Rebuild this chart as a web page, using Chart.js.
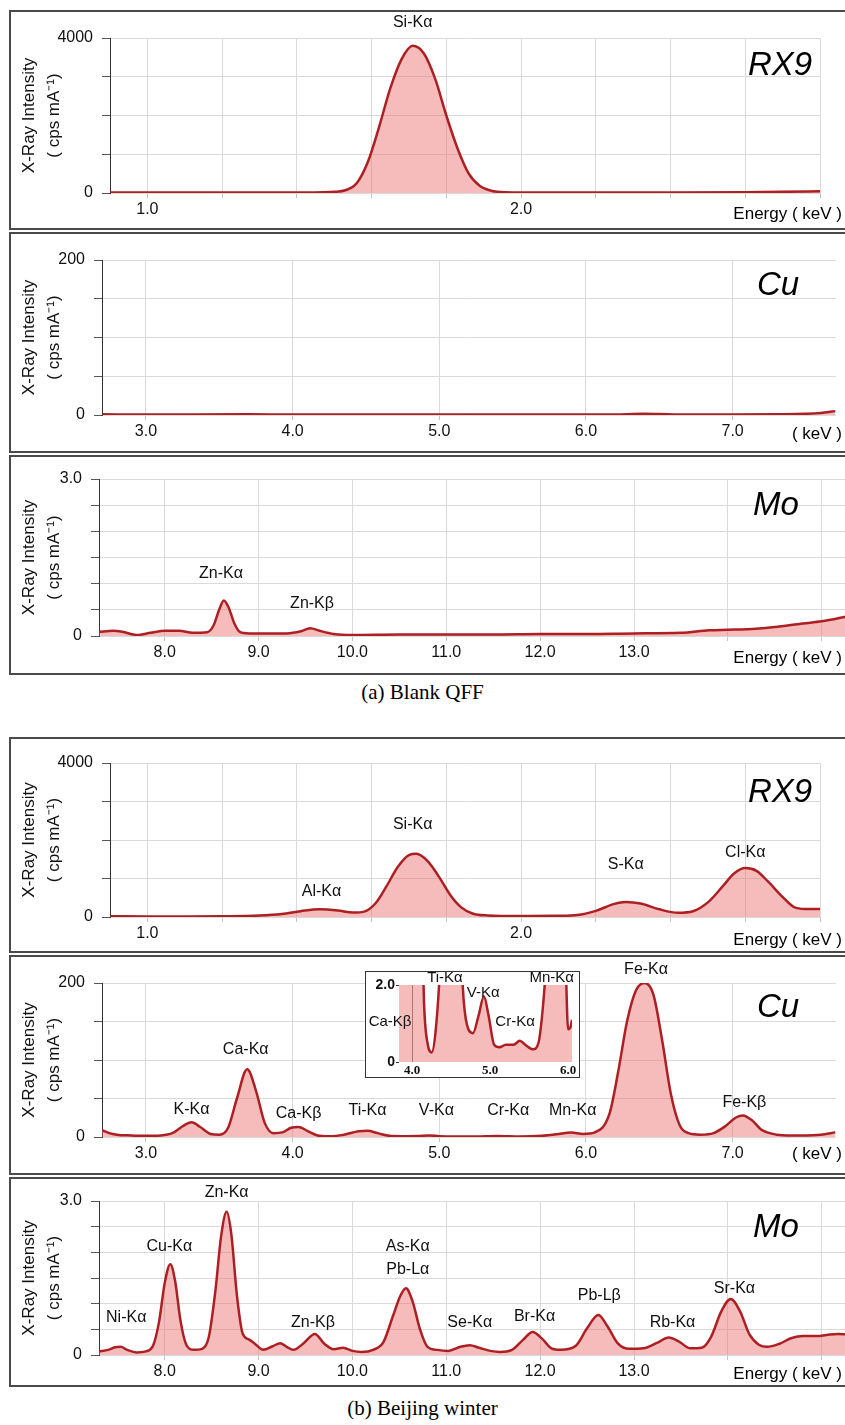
<!DOCTYPE html>
<html>
<head>
<meta charset="utf-8">
<script src="https://cdn.jsdelivr.net/npm/chart.js@4.4.1/dist/chart.umd.min.js"></script>
<style>
  html, body { margin: 0; padding: 0; width: 845px; height: 1425px; overflow: hidden; background: #fff; }
  .frame { position: absolute; left: 9px; width: 850px; border: 2px solid #4a4a4a; box-sizing: border-box; }
  canvas { position: absolute; left: 0; }
  .txt { position: absolute; font-family: 'Liberation Sans', Arial, sans-serif; color: #000; white-space: nowrap; line-height: 1; }
  .tag { font-style: italic; font-size: 33px; }
  .energy { font-size: 17px; right: 3px; }
  .caption { position: absolute; left: 0; width: 845px; text-align: center; line-height: 1;
             font-family: 'Liberation Serif', 'Times New Roman', serif; font-size: 21px; color: #000; }
  .inset { position: absolute; background: #fff; border: 1.5px solid #333; box-sizing: border-box; }
</style>
</head>
<body>
<script>
// spectra: energy (keV) and intensity (cps/mA)
const rx9BlankKeV = [0.90, 1.00, 1.20, 1.40, 1.47, 1.50, 1.53, 1.56, 1.59, 1.62, 1.65, 1.68, 1.71, 1.74, 1.77, 1.80, 1.83, 1.86, 1.89, 1.92, 1.96, 2.05, 2.20, 2.40, 2.60, 2.70, 2.80];
const rx9BlankCps = [10, 10, 10, 12, 18, 30, 70, 250, 800, 1700, 2700, 3450, 3800, 3600, 2950, 2000, 1150, 500, 180, 60, 20, 10, 10, 10, 20, 30, 45];

const cuBlankKeV = [2.70, 3.00, 3.30, 3.70, 4.00, 4.50, 5.00, 5.50, 6.00, 6.20, 6.40, 6.60, 7.00, 7.30, 7.50, 7.60, 7.70];
const cuBlankCps = [1, 0.5, 0.8, 1, 0.5, 0.5, 0.5, 0.5, 0.5, 0.8, 1.5, 0.8, 0.8, 1, 1.5, 2.5, 5];

const moBlankKeV = [7.30, 7.45, 7.55, 7.70, 7.85, 8.00, 8.15, 8.30, 8.45, 8.52, 8.58, 8.63, 8.68, 8.74, 8.80, 8.90, 9.10, 9.30, 9.45, 9.55, 9.65, 9.80, 10.00, 10.50, 11.00, 11.50, 12.00, 12.50, 13.00, 13.50, 13.80, 14.00, 14.30, 14.50, 14.80, 15.00, 15.28];
const moBlankCps = [0.08, 0.10, 0.08, 0.02, 0.06, 0.10, 0.10, 0.06, 0.07, 0.20, 0.50, 0.68, 0.55, 0.25, 0.08, 0.05, 0.05, 0.05, 0.09, 0.15, 0.10, 0.04, 0.02, 0.03, 0.03, 0.03, 0.04, 0.04, 0.05, 0.06, 0.11, 0.12, 0.14, 0.17, 0.24, 0.28, 0.38];

const rx9WinterKeV = [0.90, 1.00, 1.10, 1.20, 1.30, 1.36, 1.41, 1.46, 1.51, 1.55, 1.58, 1.61, 1.64, 1.67, 1.70, 1.72, 1.75, 1.78, 1.81, 1.84, 1.87, 1.91, 2.00, 2.10, 2.15, 2.20, 2.25, 2.28, 2.32, 2.37, 2.42, 2.46, 2.50, 2.54, 2.57, 2.60, 2.63, 2.66, 2.70, 2.73, 2.76, 2.80];
const rx9WinterCps = [20, 15, 15, 20, 40, 80, 150, 200, 170, 115, 140, 350, 800, 1300, 1610, 1640, 1450, 1050, 580, 250, 90, 40, 25, 30, 50, 160, 340, 390, 350, 200, 110, 150, 380, 800, 1130, 1270, 1200, 930, 520, 260, 210, 210];

const cuWinterKeV = [2.70, 2.75, 2.80, 2.90, 3.00, 3.10, 3.18, 3.25, 3.31, 3.37, 3.44, 3.50, 3.56, 3.62, 3.69, 3.75, 3.81, 3.87, 3.93, 3.99, 4.04, 4.10, 4.17, 4.25, 4.35, 4.45, 4.51, 4.58, 4.66, 4.75, 4.85, 4.93, 5.00, 5.10, 5.25, 5.40, 5.55, 5.70, 5.80, 5.90, 5.98, 6.06, 6.16, 6.22, 6.28, 6.34, 6.40, 6.46, 6.52, 6.58, 6.64, 6.70, 6.78, 6.87, 6.95, 7.02, 7.07, 7.13, 7.20, 7.30, 7.40, 7.50, 7.60, 7.70];
const cuWinterCps = [9, 5, 3, 2, 1.5, 2, 5, 14, 19, 13, 4, 3, 12, 50, 88, 60, 18, 5, 6, 12, 13, 8, 2, 1, 3, 7.5, 8, 5, 1.5, 1, 1.2, 2, 1, 0.5, 0.6, 1.2, 0.6, 1.5, 3.5, 6, 4, 6, 30, 85, 150, 190, 200, 185, 125, 55, 15, 5, 3, 5, 14, 25, 28, 22, 9, 3, 2, 2, 3, 6];

const moWinterKeV = [7.30, 7.40, 7.47, 7.53, 7.60, 7.70, 7.80, 7.88, 7.94, 8.00, 8.06, 8.11, 8.17, 8.23, 8.31, 8.40, 8.47, 8.54, 8.60, 8.66, 8.71, 8.77, 8.83, 8.90, 8.96, 9.05, 9.15, 9.23, 9.30, 9.37, 9.48, 9.60, 9.70, 9.80, 9.90, 10.00, 10.10, 10.22, 10.33, 10.43, 10.51, 10.57, 10.64, 10.72, 10.80, 10.90, 11.02, 11.15, 11.25, 11.35, 11.47, 11.57, 11.70, 11.82, 11.92, 12.02, 12.12, 12.22, 12.38, 12.50, 12.62, 12.72, 12.83, 12.95, 13.10, 13.25, 13.37, 13.48, 13.60, 13.72, 13.82, 13.93, 14.03, 14.13, 14.23, 14.33, 14.42, 14.55, 14.68, 14.80, 14.95, 15.05, 15.17, 15.28];
const moWinterCps = [0.07, 0.10, 0.15, 0.16, 0.10, 0.05, 0.07, 0.20, 0.65, 1.40, 1.77, 1.45, 0.65, 0.20, 0.10, 0.12, 0.35, 1.25, 2.30, 2.79, 2.35, 1.15, 0.42, 0.30, 0.22, 0.10, 0.17, 0.23, 0.16, 0.10, 0.23, 0.41, 0.22, 0.11, 0.14, 0.08, 0.06, 0.10, 0.25, 0.75, 1.15, 1.30, 1.05, 0.50, 0.16, 0.10, 0.08, 0.16, 0.19, 0.14, 0.08, 0.06, 0.10, 0.30, 0.45, 0.32, 0.13, 0.10, 0.18, 0.52, 0.78, 0.55, 0.22, 0.12, 0.13, 0.24, 0.34, 0.26, 0.13, 0.14, 0.35, 0.85, 1.09, 0.85, 0.40, 0.20, 0.16, 0.22, 0.33, 0.37, 0.37, 0.39, 0.41, 0.40];

// zoomed inset of the winter Cu spectrum (clipped at 2.0)
const insetKeV = [3.83, 3.90, 4.00, 4.05, 4.10, 4.15, 4.20, 4.25, 4.30, 4.36, 4.43, 4.51, 4.60, 4.66, 4.72, 4.78, 4.85, 4.92, 4.98, 5.05, 5.12, 5.20, 5.30, 5.38, 5.45, 5.55, 5.62, 5.68, 5.74, 5.83, 5.91, 5.97, 6.00, 6.03, 6.05];
const insetCps = [6, 9, 13, 12, 6, 1.6, 0.45, 0.25, 0.8, 2.6, 6.5, 8, 4, 1.6, 0.85, 0.75, 1.2, 1.7, 1.2, 0.45, 0.38, 0.45, 0.45, 0.55, 0.45, 0.33, 0.5, 1.5, 3.2, 6, 6.2, 2.5, 0.85, 0.9, 1.1];

// tick labels shown on the energy axes
const rx9TickLabels = [1.0, 2.0];
const cuTickLabels = [3.0, 4.0, 5.0, 6.0, 7.0];
const moTickLabels = [8.0, 9.0, 10.0, 11.0, 12.0, 13.0];
const insetTickLabels = [4.0, 5.0, 6.0];

// peak names, energy and the intensity level where the name sits
const rx9BlankPeaks = ['Si-Kα'];
const rx9BlankPeakKeV = [1.71];
const rx9BlankPeakLevel = [4400];

const moBlankPeaks = ['Zn-Kα', 'Zn-Kβ'];
const moBlankPeakKeV = [8.60, 9.57];
const moBlankPeakLevel = [1.20, 0.61];

const rx9WinterPeaks = ['Al-Kα', 'Si-Kα', 'S-Kα', 'Cl-Kα'];
const rx9WinterPeakKeV = [1.466, 1.71, 2.28, 2.60];
const rx9WinterPeakLevel = [650, 2390, 1350, 1660];

const cuWinterPeaks = ['K-Kα', 'Ca-Kα', 'Ca-Kβ', 'Ti-Kα', 'V-Kα', 'Cr-Kα', 'Mn-Kα', 'Fe-Kα', 'Fe-Kβ'];
const cuWinterPeakKeV = [3.31, 3.68, 4.04, 4.51, 4.98, 5.47, 5.91, 6.41, 7.08];
const cuWinterPeakLevel = [36, 113, 30, 34, 34, 34, 34, 218, 45];

const moWinterPeaks = ['Ni-Kα', 'Cu-Kα', 'Zn-Kα', 'Zn-Kβ', 'As-Kα', 'Pb-Lα', 'Se-Kα', 'Br-Kα', 'Pb-Lβ', 'Rb-Kα', 'Sr-Kα'];
const moWinterPeakKeV = [7.59, 8.05, 8.66, 9.58, 10.59, 10.59, 11.25, 11.94, 12.63, 13.41, 14.07];
const moWinterPeakLevel = [0.72, 2.12, 3.16, 0.64, 2.12, 1.66, 0.64, 0.74, 1.15, 0.64, 1.29];

const insetPeaks = ['Ca-Kβ', 'Ti-Kα', 'V-Kα', 'Cr-Kα', 'Mn-Kα'];
const insetPeakKeV = [3.715, 4.42, 4.91, 5.32, 5.79];
const insetPeakLevel = [1.04, 2.18, 1.79, 1.04, 2.18];

const SANS = "'Liberation Sans', Arial, sans-serif";
const LINE = '#ac2024';
const FILL = 'rgba(236,112,112,0.47)';
const GRID = '#dadada';

function near(list, v) {
  return list.some(l => Math.abs(l - v) < 1e-6);
}

function peakLabelPlugin(names, keV, level, font) {
  return {
    id: 'peakLabels',
    afterDatasetsDraw(chart) {
      const { ctx, scales: { x, y } } = chart;
      ctx.save();
      ctx.font = font;
      ctx.fillStyle = '#111';
      ctx.textAlign = 'center';
      ctx.textBaseline = 'middle';
      names.forEach((n, i) => ctx.fillText(n, x.getPixelForValue(keV[i]), y.getPixelForValue(level[i])));
      ctx.restore();
    },
  };
}

function addText(cls, text, css) {
  const d = document.createElement('div');
  d.className = 'txt ' + cls;
  d.textContent = text;
  Object.assign(d.style, css);
  document.body.append(d);
}

function spectrum(keV, cps) {
  return {
    data: keV.map((e, i) => ({ x: e, y: cps[i] })),
    borderColor: LINE,
    borderWidth: 2.5,
    backgroundColor: FILL,
    fill: 'origin',
    pointRadius: 0,
    cubicInterpolationMode: 'monotone',
  };
}

function makePanel(p) {
  const frame = document.createElement('div');
  frame.className = 'frame';
  frame.style.top = p.frameTop + 'px';
  frame.style.height = p.frameHeight + 'px';
  document.body.append(frame);

  const cTop = p.frameTop + 2;
  const cH = p.frameHeight - 4;
  const cW = 870;
  const canvas = document.createElement('canvas');
  canvas.width = cW;
  canvas.height = cH;
  canvas.style.top = cTop + 'px';
  document.body.append(canvas);

  new Chart(canvas, {
    type: 'line',
    data: { datasets: [spectrum(p.keV, p.cps)] },
    plugins: [peakLabelPlugin(p.peaks, p.peakKeV, p.peakLevel, `16px ${SANS}`)],
    options: {
      responsive: false,
      animation: false,
      events: [],
      layout: { padding: { left: 0, right: cW - p.plot.right, top: p.plot.top - cTop, bottom: 0 } },
      plugins: { legend: { display: false }, tooltip: { enabled: false } },
      scales: {
        x: {
          type: 'linear',
          min: p.xMin,
          max: p.xMax,
          afterFit: s => { s.height = cTop + cH - p.plot.bottom; },
          border: { display: false },
          grid: { color: GRID, tickLength: 5, tickColor: '#c4c4c4' },
          ticks: {
            stepSize: p.xStep,
            includeBounds: false,
            autoSkip: false,
            maxRotation: 0,
            padding: 2,
            color: '#111',
            font: { family: SANS, size: 16 },
            callback: v => (near(p.xLabels, v) ? v.toFixed(1) : ''),
          },
        },
        y: {
          min: 0,
          max: p.yMax,
          afterFit: s => { s.width = p.plot.left; },
          border: { color: '#333', width: 1 },
          grid: { color: GRID, tickLength: 8, tickColor: '#555' },
          ticks: {
            stepSize: p.yStep,
            padding: 9,
            color: '#111',
            font: { family: SANS, size: 16 },
            callback: v => (v === 0 ? '0' : (Math.abs(v - p.yMax) < 1e-9 ? p.yMaxLabel : '')),
          },
          title: {
            display: true,
            text: ['X-Ray Intensity', '( cps mA⁻¹)'],
            color: '#111',
            font: { family: SANS, size: 17, lineHeight: 1.45 },
            padding: { top: 17, bottom: 0 },
          },
        },
      },
    },
  });

  addText('tag', p.tag, { left: p.tagLeft + 'px', top: (p.tagY - 16) + 'px' });
  addText('energy', p.energyText, { top: (p.energyY - 8) + 'px' });
}

const rx9Axis = { xMin: 0.9, xMax: 2.8, xStep: 0.2, xLabels: rx9TickLabels, yMax: 4000, yStep: 1000, yMaxLabel: '4000' };
const cuAxis = { xMin: 2.7, xMax: 7.705, xStep: 1, xLabels: cuTickLabels, yMax: 200, yStep: 50, yMaxLabel: '200' };
const moAxis = { xMin: 7.3, xMax: 15.28, xStep: 1, xLabels: moTickLabels, yMax: 3.0, yStep: 0.5, yMaxLabel: '3.0' };

// (a) Blank QFF
makePanel({ ...rx9Axis, frameTop: 10, frameHeight: 220, plot: { left: 110, right: 820, top: 38, bottom: 193 },
  keV: rx9BlankKeV, cps: rx9BlankCps, peaks: rx9BlankPeaks, peakKeV: rx9BlankPeakKeV, peakLevel: rx9BlankPeakLevel,
  tag: 'RX9', tagLeft: 748, tagY: 63, energyText: 'Energy ( keV )', energyY: 213 });
makePanel({ ...cuAxis, frameTop: 232, frameHeight: 221, plot: { left: 102, right: 836, top: 260, bottom: 415 },
  keV: cuBlankKeV, cps: cuBlankCps, peaks: [], peakKeV: [], peakLevel: [],
  tag: 'Cu', tagLeft: 757, tagY: 283, energyText: '( keV )', energyY: 433 });
makePanel({ ...moAxis, frameTop: 455, frameHeight: 220, plot: { left: 99, right: 848, top: 479, bottom: 636 },
  keV: moBlankKeV, cps: moBlankCps, peaks: moBlankPeaks, peakKeV: moBlankPeakKeV, peakLevel: moBlankPeakLevel,
  tag: 'Mo', tagLeft: 753, tagY: 503, energyText: 'Energy ( keV )', energyY: 657 });

// (b) Beijing winter
makePanel({ ...rx9Axis, frameTop: 737, frameHeight: 216, plot: { left: 110, right: 820, top: 763, bottom: 917 },
  keV: rx9WinterKeV, cps: rx9WinterCps, peaks: rx9WinterPeaks, peakKeV: rx9WinterPeakKeV, peakLevel: rx9WinterPeakLevel,
  tag: 'RX9', tagLeft: 748, tagY: 790, energyText: 'Energy ( keV )', energyY: 939 });
makePanel({ ...cuAxis, frameTop: 955, frameHeight: 220, plot: { left: 102, right: 836, top: 983, bottom: 1137 },
  keV: cuWinterKeV, cps: cuWinterCps, peaks: cuWinterPeaks, peakKeV: cuWinterPeakKeV, peakLevel: cuWinterPeakLevel,
  tag: 'Cu', tagLeft: 757, tagY: 1005, energyText: '( keV )', energyY: 1153 });
makePanel({ ...moAxis, frameTop: 1177, frameHeight: 210, plot: { left: 99, right: 848, top: 1201, bottom: 1355 },
  keV: moWinterKeV, cps: moWinterCps, peaks: moWinterPeaks, peakKeV: moWinterPeakKeV, peakLevel: moWinterPeakLevel,
  tag: 'Mo', tagLeft: 753, tagY: 1225, energyText: 'Energy ( keV )', energyY: 1373 });

// inset over the winter Cu panel
const box = document.createElement('div');
box.className = 'inset';
Object.assign(box.style, { left: '365px', top: '971px', width: '215px', height: '107px' });
document.body.append(box);

const insetCanvas = document.createElement('canvas');
insetCanvas.width = 213;
insetCanvas.height = 105;
Object.assign(insetCanvas.style, { left: '366px', top: '972px' });
document.body.append(insetCanvas);

new Chart(insetCanvas, {
  type: 'line',
  data: { datasets: [spectrum(insetKeV, insetCps)] },
  plugins: [peakLabelPlugin(insetPeaks, insetPeakKeV, insetPeakLevel, `15px ${SANS}`)],
  options: {
    responsive: false,
    animation: false,
    events: [],
    layout: { padding: { left: 0, right: 7, top: 13, bottom: 0 } },
    plugins: { legend: { display: false }, tooltip: { enabled: false } },
    scales: {
      x: {
        type: 'linear',
        min: 3.83,
        max: 6.05,
        afterFit: s => { s.height = 15; },
        border: { display: false },
        grid: { drawTicks: false, color: c => (c.tick && c.tick.value === 4 ? '#777' : 'rgba(0,0,0,0)') },
        ticks: {
          stepSize: 1,
          includeBounds: false,
          autoSkip: false,
          maxRotation: 0,
          padding: 1,
          color: '#111',
          font: { family: "'Liberation Serif', serif", size: 13, weight: 'bold' },
          callback: v => (near(insetTickLabels, v) ? v.toFixed(1) : ''),
        },
      },
      y: {
        min: 0,
        max: 2,
        afterFit: s => { s.width = 33; },
        border: { display: false },
        grid: { drawOnChartArea: false, tickLength: 3, tickColor: '#333' },
        ticks: {
          stepSize: 2,
          padding: 1,
          color: '#111',
          font: { family: SANS, size: 14, weight: 'bold' },
          callback: v => (v === 0 ? '0' : '2.0'),
        },
      },
    },
  },
});

const capA = document.createElement('div');
capA.className = 'caption';
capA.style.top = '682px';
capA.textContent = '(a) Blank QFF';
document.body.append(capA);

const capB = document.createElement('div');
capB.className = 'caption';
capB.style.top = '1398px';
capB.textContent = '(b) Beijing winter';
document.body.append(capB);
</script>
</body>
</html>
